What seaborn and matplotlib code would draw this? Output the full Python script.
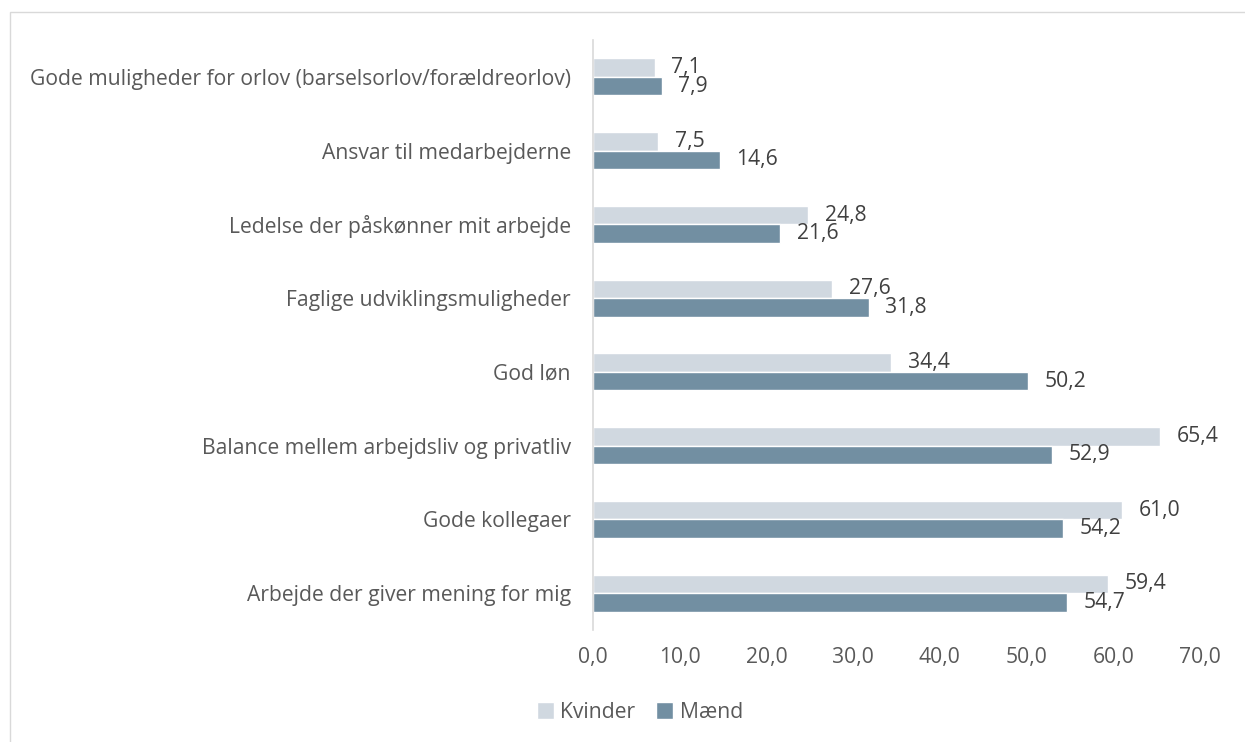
import pandas as pd
import matplotlib.pyplot as plt
import seaborn as sns
from matplotlib.patches import Rectangle

# data
kategorier = [
    "Gode muligheder for orlov (barselsorlov/forældreorlov)",
    "Ansvar til medarbejderne",
    "Ledelse der påskønner mit arbejde",
    "Faglige udviklingsmuligheder",
    "God løn",
    "Balance mellem arbejdsliv og privatliv",
    "Gode kollegaer",
    "Arbejde der giver mening for mig",
]
kvinder = [7.1, 7.5, 24.8, 27.6, 34.4, 65.4, 61.0, 59.4]
maend = [7.9, 14.6, 21.6, 31.8, 50.2, 52.9, 54.2, 54.7]
x_ticks = [0, 10, 20, 30, 40, 50, 60, 70]

df = pd.DataFrame({
    "Kategori": kategorier * 2,
    "Andel": kvinder + maend,
    "Køn": ["Kvinder"] * len(kvinder) + ["Mænd"] * len(maend),
})

sns.set_style("white")
plt.rcParams["font.family"] = ["Open Sans", "DejaVu Sans"]
tekst = "#595959"
fs = 15.2

fig = plt.figure(figsize=(12.45, 7.42), dpi=100)
ax = fig.add_axes([593 / 1245, 1 - 630 / 742, (1200 - 593) / 1245, 590 / 742])

sns.barplot(
    data=df, y="Kategori", x="Andel", hue="Køn", orient="h",
    palette={"Kvinder": "#D0D8E0", "Mænd": "#728FA2"}, saturation=1,
    width=0.5, ax=ax, order=kategorier, hue_order=["Kvinder", "Mænd"],
)

for c in ax.containers:
    ax.bar_label(c, labels=[f"{v:.1f}".replace(".", ",") for v in c.datavalues],
                 padding=12, fontsize=fs, color="#404040")

ax.set_xlim(0, 70)
ax.set_ylim(7.5, -0.5)
ax.set_xticks(x_ticks)
ax.set_xticklabels([f"{t:.1f}".replace(".", ",") for t in x_ticks], fontsize=fs, color=tekst)
ax.tick_params(axis="y", labelsize=fs, labelcolor=tekst, length=0, pad=16)
ax.tick_params(axis="x", length=0, pad=12)
ax.set_xlabel("")
ax.set_ylabel("")
for s in ["top", "right", "bottom"]:
    ax.spines[s].set_visible(False)
ax.spines["left"].set_color("#D9D9D9")
ax.spines["left"].set_linewidth(1.2)

ax.legend(loc="center", bbox_to_anchor=(0.514, 0.04), bbox_transform=fig.transFigure,
          ncol=2, frameon=False, fontsize=fs, labelcolor=tekst,
          handlelength=0.8, handleheight=0.8, handletextpad=0.3, columnspacing=1.0)

# ramme om figuren
fig.patches.append(Rectangle((10 / 1245, -0.1), 1.2, 1 - 12 / 742 + 0.1,
                             transform=fig.transFigure, fill=False,
                             edgecolor="#D9D9D9", linewidth=1))

fig.savefig("out.png", dpi=100)
